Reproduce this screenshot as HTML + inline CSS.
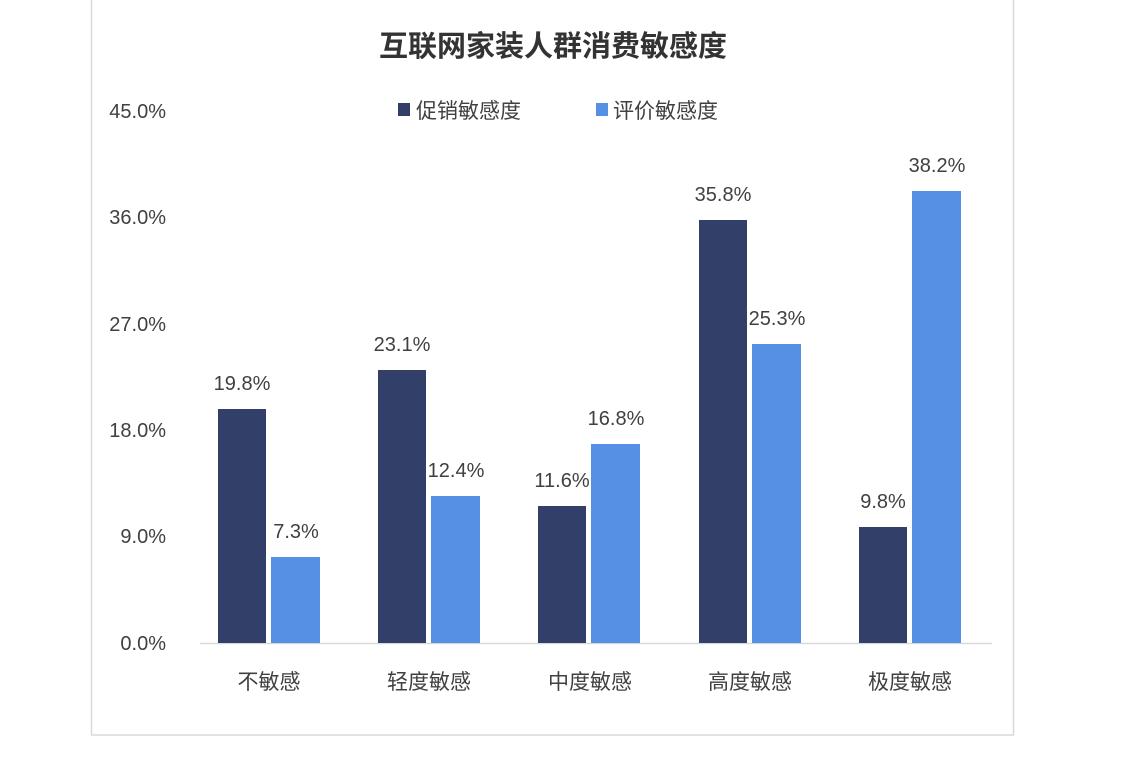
<!DOCTYPE html>
<html><head><meta charset="utf-8"><style>
body{margin:0;background:#fff;}
svg text{font-family:"Liberation Sans","Noto Sans CJK SC",sans-serif;fill:#404040;}
</style></head><body>
<svg width="1125" height="753" xmlns="http://www.w3.org/2000/svg">
<rect x="91.5" y="-2" width="922" height="737" fill="#fff" stroke="#d9d9d9" stroke-width="1.5"/>
<text x="553" y="56" text-anchor="middle" font-size="29" font-weight="bold" style="fill:#333">互联网家装人群消费敏感度</text>
<rect x="398" y="103" width="12" height="13" fill="#324069"/>
<text x="416" y="118" font-size="21">促销敏感度</text>
<rect x="596" y="103" width="12" height="13" fill="#5590e4"/>
<text x="613" y="118" font-size="21">评价敏感度</text>
<g font-size="20" text-anchor="end">
<text x="166" y="118">45.0%</text>
<text x="166" y="224">36.0%</text>
<text x="166" y="331">27.0%</text>
<text x="166" y="437">18.0%</text>
<text x="166" y="543">9.0%</text>
<text x="166" y="650">0.0%</text>
</g>
<line x1="200" y1="643.5" x2="992" y2="643.5" stroke="#d9d9d9" stroke-width="1.5"/>
<g fill="#324069">
<rect x="218" y="409" width="48" height="234"/>
<rect x="378" y="370" width="48" height="273"/>
<rect x="538" y="506" width="48" height="137"/>
<rect x="699" y="220" width="48" height="423"/>
<rect x="859" y="527" width="48" height="116"/>
</g>
<g fill="#5590e4">
<rect x="271" y="557" width="49" height="86"/>
<rect x="431" y="496" width="49" height="147"/>
<rect x="591" y="444" width="49" height="199"/>
<rect x="752" y="344" width="49" height="299"/>
<rect x="912" y="191" width="49" height="452"/>
</g>
<g font-size="20" text-anchor="middle">
<text x="242" y="390">19.8%</text><text x="296" y="538">7.3%</text>
<text x="402" y="351">23.1%</text><text x="456" y="477">12.4%</text>
<text x="562" y="487">11.6%</text><text x="616" y="425">16.8%</text>
<text x="723" y="201">35.8%</text><text x="777" y="325">25.3%</text>
<text x="883" y="508">9.8%</text><text x="937" y="172">38.2%</text>
</g>
<g font-size="21" text-anchor="middle">
<text x="269" y="689">不敏感</text>
<text x="429" y="689">轻度敏感</text>
<text x="590" y="689">中度敏感</text>
<text x="750" y="689">高度敏感</text>
<text x="910" y="689">极度敏感</text>
</g>
</svg>
</body></html>
